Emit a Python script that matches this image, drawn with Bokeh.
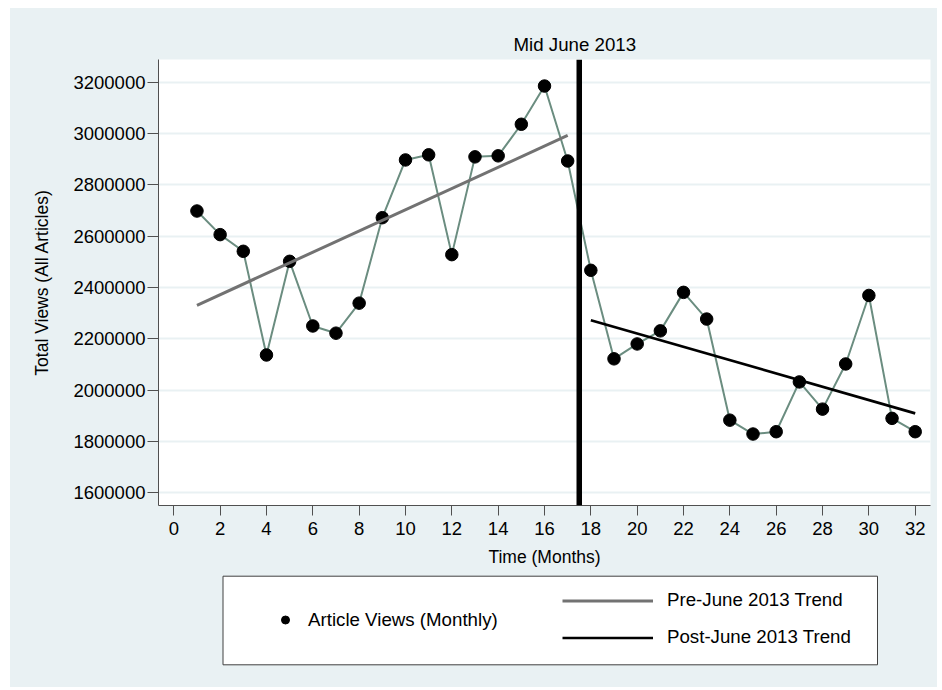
import numpy as np
from bokeh.plotting import figure
from bokeh.layouts import column
from bokeh.models import (FixedTicker, NumeralTickFormatter, Span, Legend,
                          LegendItem, Range1d, ColumnDataSource, BoxAnnotation)
from bokeh.embed import file_html
from bokeh.resources import INLINE

# ---------------- data ----------------
months = list(range(1, 33))
views = [2698000, 2606000, 2541000, 2137000, 2502000, 2250000, 2222000, 2339000,
         2672000, 2897000, 2917000, 2528000, 2909000, 2913000, 3036000, 3185000,
         2893000, 2467000, 2122000, 2180000, 2231000, 2381000, 2277000, 1883000,
         1829000, 1838000, 2032000, 1926000, 2102000, 2369000, 1890000, 1838000]
x_ticks = list(range(0, 33, 2))
y_ticks = list(range(1600000, 3200001, 200000))
break_month = 17.5
break_label = "Mid June 2013"
legend_labels = ["Article Views (Monthly)", "Pre-June 2013 Trend", "Post-June 2013 Trend"]

# ---------------- trends (OLS on each segment) ----------------
m = np.array(months, dtype=float)
v = np.array(views, dtype=float)
pre_mask = m < break_month
post_mask = m > break_month
pre_fit = np.polyfit(m[pre_mask], v[pre_mask], 1)
post_fit = np.polyfit(m[post_mask], v[post_mask], 1)
pre_x = [m[pre_mask].min(), m[pre_mask].max()]
post_x = [m[post_mask].min(), m[post_mask].max()]
pre_y = list(np.polyval(pre_fit, pre_x))
post_y = list(np.polyval(post_fit, post_x))

FONT = "Liberation Sans"
BG = "#e9f1f3"
LINE_C = "#6b8d80"
PRE_C = "#727272"
POST_C = "black"
BORDER_L, BORDER_R = 148, 7
W = 927

# ---------------- main plot ----------------
p = figure(width=W, height=566, output_backend="svg", toolbar_location=None,
           x_range=Range1d(-0.66, 32.66), y_range=Range1d(1550500, 3288400),
           min_border_left=BORDER_L, min_border_right=BORDER_R, min_border_top=51,
           min_border_bottom=69)
p.border_fill_color = BG
p.background_fill_color = "white"
p.outline_line_color = None

p.title.text = break_label
p.title.align = "left"
p.title.offset = 355
p.title.text_font = FONT
p.title.text_font_size = "18.7px"
p.title.text_font_style = "normal"
p.title.text_color = "black"
p.title.standoff = 10

p.xaxis.ticker = FixedTicker(ticks=x_ticks)
p.yaxis.ticker = FixedTicker(ticks=y_ticks)
p.yaxis.formatter = NumeralTickFormatter(format="0")
for ax in (p.xaxis[0], p.yaxis[0]):
    ax.axis_line_color = "#505050"
    ax.axis_line_width = 1
    ax.major_tick_line_color = "#505050"
    ax.major_tick_in = 0
    ax.minor_tick_line_color = None
    ax.major_label_text_font = FONT
    ax.major_label_text_font_size = "18.5px"
    ax.major_label_text_color = "black"
    ax.axis_label_text_font = FONT
    ax.axis_label_text_font_size = "17.5px"
    ax.axis_label_text_font_style = "normal"
    ax.axis_label_text_color = "black"
p.xaxis.major_tick_out = 10
p.xaxis.major_label_standoff = 6
p.xaxis.axis_label = "Time (Months)"
p.xaxis.axis_label_standoff = 9
p.yaxis.major_tick_out = 11
p.yaxis.major_label_standoff = 2
p.yaxis.axis_label = "Total Views (All Articles)"
p.yaxis.axis_label_standoff = 18

p.xgrid.visible = False
p.ygrid.grid_line_color = BG
p.ygrid.grid_line_width = 2

src = ColumnDataSource(dict(month=months, views=views))
p.line("month", "views", source=src, line_color=LINE_C, line_width=2)
p.scatter("month", "views", source=src, marker="circle", size=12.5,
          fill_color="black", line_color="black")
p.line(pre_x, pre_y, line_color=PRE_C, line_width=3)
p.line(post_x, post_y, line_color=POST_C, line_width=2.7)

p.add_layout(Span(location=break_month, dimension="height", line_color="black",
                  line_width=5.5))

# ---------------- legend panel (pixel-unit ranges) ----------------
LH = 113
FW = W - BORDER_L - BORDER_R
lg = figure(width=W, height=LH, output_backend="svg", toolbar_location=None,
            x_axis_type=None, y_axis_type=None,
            x_range=Range1d(0, FW), y_range=Range1d(0, LH),
            min_border_left=BORDER_L, min_border_right=BORDER_R, min_border_top=0,
            min_border_bottom=0)
lg.border_fill_color = BG
lg.background_fill_color = None
lg.outline_line_color = None
lg.xgrid.visible = False
lg.ygrid.visible = False

lg.add_layout(BoxAnnotation(left=64.5, right=719, bottom=22.7, top=111.3,
                            fill_color="white", fill_alpha=1,
                            line_color="#404040", line_width=1, line_alpha=1))

empty = ColumnDataSource(dict(x=[np.nan], y=[np.nan]))
k_pts = lg.scatter("x", "y", source=empty, marker="circle", size=12.5,
                   fill_color="black", line_color="black")
k_pre = lg.line("x", "y", source=empty, line_color=PRE_C, line_width=3)
k_post = lg.line("x", "y", source=empty, line_color=POST_C, line_width=2.7)

common = dict(padding=0, margin=0, spacing=0, border_line_alpha=0,
              background_fill_alpha=0, label_text_font=FONT,
              label_text_font_size="18.7px", label_text_color="black",
              glyph_height=37, label_height=37)
leg_a = Legend(items=[LegendItem(label=legend_labels[0], renderers=[k_pts])],
               location=(117, 49), glyph_width=20, label_standoff=13, **common)
leg_b = Legend(items=[LegendItem(label=legend_labels[1], renderers=[k_pre]),
                      LegendItem(label=legend_labels[2], renderers=[k_post])],
               location=(404, 31.5), glyph_width=91, label_standoff=14, **common)
lg.add_layout(leg_a)
lg.add_layout(leg_b)

layout = column(p, lg, spacing=0, margin=(8, 5, 3, 10),
                styles={"background-color": BG})
open("out.html", "w").write(file_html(layout, INLINE))
